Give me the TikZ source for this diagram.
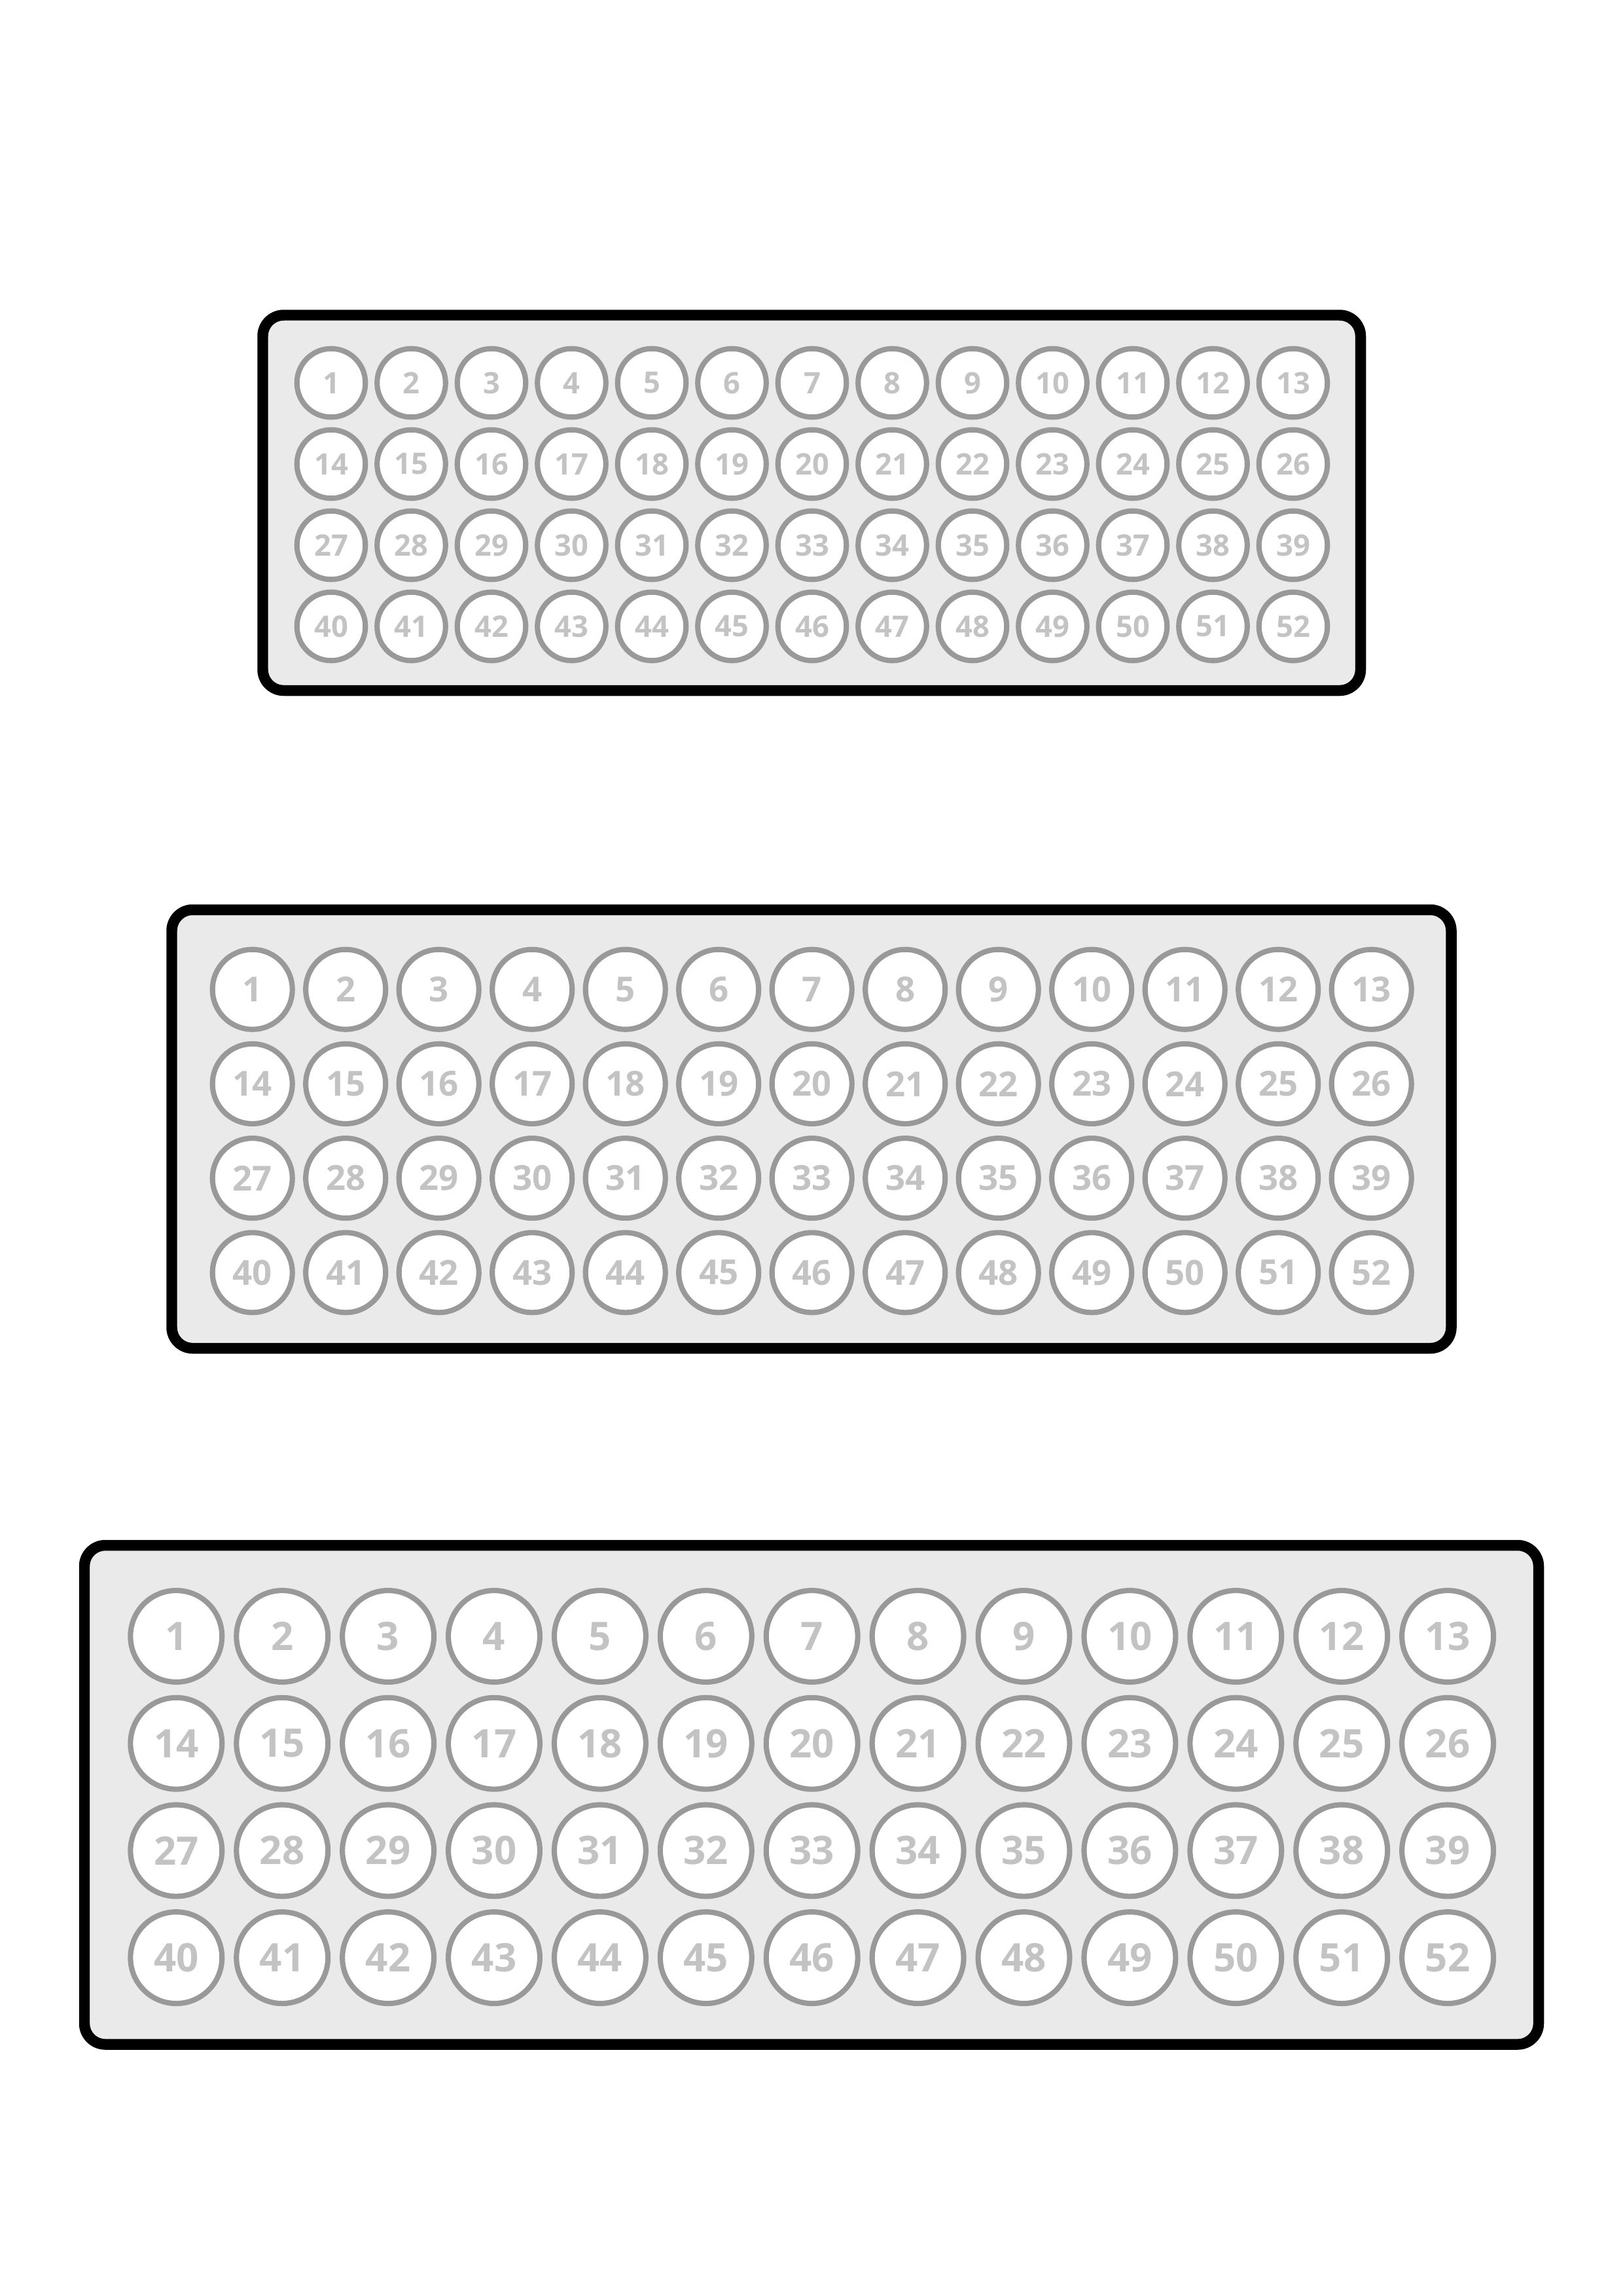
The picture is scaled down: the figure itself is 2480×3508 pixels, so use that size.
\documentclass[tikz,border=0pt]{standalone}
\usepackage{fontspec}
\setmainfont{Open Sans}
\newfontfamily\wellfont{Open Sans Bold}
\definecolor{panelfill}{HTML}{EAEAEA}
\definecolor{wellline}{HTML}{999999}
\definecolor{welltext}{HTML}{C3C3C3}
\begin{document}
\begin{tikzpicture}[x=0.2409pt, y=-0.2409pt,
  panel/.style={draw=black, line width=3.97pt, fill=panelfill, rounded corners=7.7pt},
  well/.style={circle, draw=wellline, fill=white, line width=1.95pt, inner sep=0pt, text=welltext},
  wellA/.style={well, minimum size=25.2pt, font=\fontsize{10.9pt}{12pt}\wellfont},
  wellB/.style={well, minimum size=29.4pt, font=\fontsize{12.7pt}{14pt}\wellfont},
  wellC/.style={well, minimum size=33.7pt, font=\fontsize{14.45pt}{16pt}\wellfont}]
\useasboundingbox (0,0) rectangle (2480,3508);
\fill[white] (0,0) rectangle (2480,3508);
% panel 1
\draw[panel] (401.5,481.5) rectangle (2079,1055);
\foreach \r in {0,...,3} \foreach \c in {0,...,12} {
  \pgfmathtruncatemacro\n{\r*13+\c+1}
  \node[wellA] (a\n) at ({506+\c*122.5},{585+\r*124}) {\n};
}
% panel 2
\draw[panel] (262.5,1390) rectangle (2217.5,2060);
\foreach \r in {0,...,3} \foreach \c in {0,...,12} {
  \pgfmathtruncatemacro\n{\r*13+\c+1}
  \node[wellB] (b\n) at ({385.7+\c*142.5},{1511.7+\r*144.2}) {\n};
}
% panel 3
\draw[panel] (129,2361) rectangle (2351,3123.5);
\foreach \r in {0,...,3} \foreach \c in {0,...,12} {
  \pgfmathtruncatemacro\n{\r*13+\c+1}
  \node[wellC] (c\n) at ({269.3+\c*161.9},{2500+\r*163.7}) {\n};
}
\end{tikzpicture}
\end{document}
